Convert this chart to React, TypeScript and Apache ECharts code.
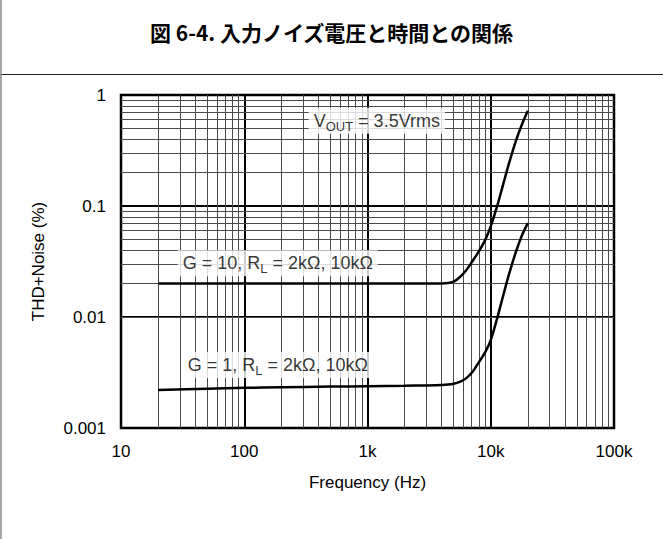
import React, { useEffect, useRef } from 'react';
import * as echarts from 'echarts';

const titleText = '図 6-4. 入力ノイズ電圧と時間との関係';
const xAxisName = 'Frequency (Hz)';
const yAxisName = 'THD+Noise (%)';

const xTickValues = [10, 100, 1000, 10000, 100000];
const xTickLabels = ['10', '100', '1k', '10k', '100k'];
const yTickValues = [0.001, 0.01, 0.1, 1];
const yTickLabels = ['0.001', '0.01', '0.1', '1'];

// G = 10 curve
const freqG10 = [20, 100, 1000, 3000, 4000, 4500, 5000, 5600, 6300, 7100, 8000, 9000, 10000, 11200, 12500, 14000, 16000, 18000, 20000];
const thdG10 = [0.02, 0.02, 0.02, 0.02, 0.02, 0.0202, 0.0208, 0.0228, 0.0262, 0.0318, 0.039, 0.0493, 0.0656, 0.0975, 0.151, 0.238, 0.386, 0.55, 0.72];

// G = 1 curve
const freqG1 = [20, 50, 100, 200, 500, 1000, 2000, 3000, 4000, 4500, 5000, 5600, 6300, 7100, 8000, 9000, 10000, 11200, 12500, 14000, 16000, 18000, 20000];
const thdG1 = [0.0022, 0.00226, 0.0023, 0.00233, 0.00236, 0.00238, 0.0024, 0.00242, 0.00244, 0.00246, 0.0025, 0.0026, 0.0028, 0.0032, 0.0039, 0.0048, 0.0062, 0.0095, 0.015, 0.0238, 0.0386, 0.055, 0.07];

// In-plot annotations (anchor frequency, anchor value, text, subscript, tail)
const annFreq = [1190, 187, 187];
const annValue = [0.587, 0.0305, 0.0037];
const annMain = ['V', 'G = 10, R', 'G = 1, R'];
const annSub = ['OUT', 'L', 'L'];
const annTail = [' = 3.5Vrms', ' = 2kΩ, 10kΩ', ' = 2kΩ, 10kΩ'];

const FONT = '"Liberation Sans", Arial, Helvetica, sans-serif';
const MINOR_STEPS = [2, 3, 4, 5, 6, 7, 8, 9];

function minorLines(decades: number[]) {
  const out: number[] = [];
  decades.forEach((d) => MINOR_STEPS.forEach((m) => out.push(+(d * m).toPrecision(6))));
  return out;
}

export default function App() {
  const ref = useRef<HTMLDivElement>(null);

  useEffect(() => {
    document.body.style.margin = '0';
    if (!ref.current) return;
    const chart = echarts.init(ref.current, undefined, { renderer: 'svg' });

    const xMinor = minorLines(xTickValues.slice(0, -1));
    const yMinor = minorLines(yTickValues.slice(0, -1));
    const minorStyle = { color: '#4a4a4a', width: 1, type: 'solid' as const };

    const option: any = {
      animation: false,
      backgroundColor: '#fff',
      title: {
        text: titleText,
        left: 'center',
        top: 16,
        textStyle: {
          fontSize: 21,
          fontWeight: 'bold',
          color: '#000',
          fontFamily: '"Noto Sans CJK JP", sans-serif',
        },
      },
      graphic: [
        { type: 'line', shape: { x1: 0, y1: 74.5, x2: 663, y2: 74.5 }, style: { stroke: '#222', lineWidth: 1 } },
        { type: 'line', shape: { x1: 1, y1: 0, x2: 1, y2: 539 }, style: { stroke: '#8a8a8a', lineWidth: 1.5 } },
      ],
      grid: {
        left: 121,
        right: 49,
        top: 95,
        bottom: 111,
        show: true,
        borderColor: '#000',
        borderWidth: 2.5,
        backgroundColor: '#fff',
      },
      xAxis: {
        type: 'log',
        logBase: 10,
        min: xTickValues[0],
        max: xTickValues[xTickValues.length - 1],
        name: xAxisName,
        nameLocation: 'middle',
        nameGap: 46,
        nameTextStyle: { fontSize: 17, fontFamily: FONT, color: '#000' },
        axisLine: { show: false },
        axisTick: { show: false },
        axisLabel: {
          margin: 15,
          fontSize: 17,
          fontFamily: FONT,
          color: '#000',
          formatter: (v: number) => {
            const i = xTickValues.findIndex((t) => Math.abs(Math.log10(t) - Math.log10(v)) < 1e-6);
            return i >= 0 ? xTickLabels[i] : '';
          },
        },
        splitLine: { show: true, lineStyle: { color: '#000', width: 2 } },
      },
      yAxis: {
        type: 'log',
        logBase: 10,
        min: yTickValues[0],
        max: yTickValues[yTickValues.length - 1],
        name: yAxisName,
        nameLocation: 'middle',
        nameGap: 74,
        nameTextStyle: { fontSize: 17, fontFamily: FONT, color: '#000' },
        axisLine: { show: false },
        axisTick: { show: false },
        axisLabel: {
          margin: 15,
          fontSize: 17,
          fontFamily: FONT,
          color: '#000',
          formatter: (v: number) => {
            const i = yTickValues.findIndex((t) => Math.abs(Math.log10(t) - Math.log10(v)) < 1e-6);
            return i >= 0 ? yTickLabels[i] : '';
          },
        },
        splitLine: { show: true, lineStyle: { color: '#000', width: 2 } },
      },
      series: [
        {
          name: 'minor grid',
          type: 'line',
          data: [],
          silent: true,
          z: 1,
          markLine: {
            silent: true,
            z: 1,
            symbol: 'none',
            label: { show: false },
            lineStyle: minorStyle,
            emphasis: { disabled: true },
            data: [
              ...xMinor.map((x) => ({ xAxis: x })),
              ...yMinor.map((y) => ({ yAxis: y })),
            ],
          },
        },
        {
          name: 'G = 10',
          type: 'line',
          z: 3,
          smooth: 0.3,
          showSymbol: false,
          symbol: 'none',
          lineStyle: { color: '#000', width: 2.5 },
          data: freqG10.map((f, i) => [f, thdG10[i]]),
        },
        {
          name: 'G = 1',
          type: 'line',
          z: 3,
          smooth: 0.3,
          showSymbol: false,
          symbol: 'none',
          lineStyle: { color: '#000', width: 2.5 },
          data: freqG1.map((f, i) => [f, thdG1[i]]),
        },
        {
          name: 'annotations',
          type: 'scatter',
          z: 10,
          silent: true,
          symbolSize: 1,
          itemStyle: { color: 'rgba(0,0,0,0)' },
          data: annFreq.map((f, i) => [f, annValue[i]]),
          label: {
            show: true,
            position: 'inside',
            backgroundColor: '#fff',
            padding: [1, 5, 1, 5],
            formatter: (p: any) => `{t|${annMain[p.dataIndex]}}{s|${annSub[p.dataIndex]}}{t|${annTail[p.dataIndex]}}`,
            rich: {
              t: { fontSize: 18, fontFamily: FONT, color: '#000', lineHeight: 24 },
              s: { fontSize: 13, fontFamily: FONT, color: '#000', verticalAlign: 'bottom' },
            },
          },
        },
      ],
    };

    chart.setOption(option);
    return () => chart.dispose();
  }, []);

  return <div ref={ref} style={{ width: 663, height: 539 }} />;
}
